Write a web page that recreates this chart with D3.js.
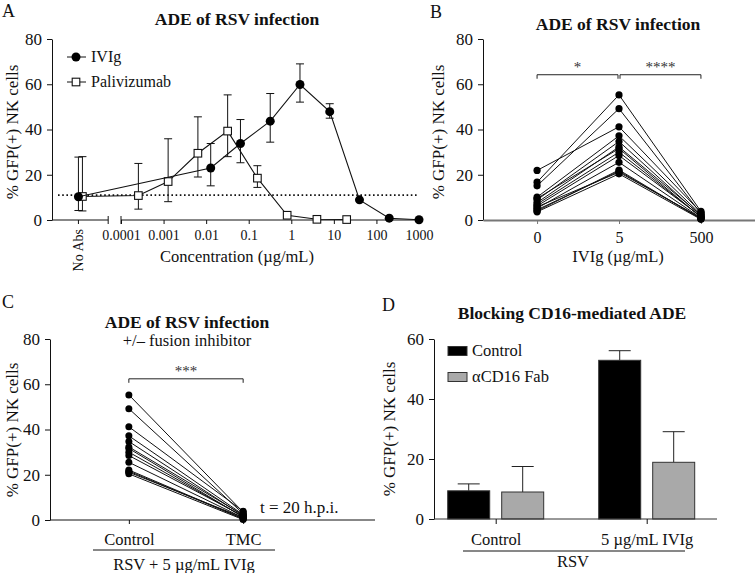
<!DOCTYPE html>
<html><head><meta charset="utf-8">
<script src="https://cdn.jsdelivr.net/npm/d3@7"></script>
<style>
body{margin:0;background:#fff;}
svg, svg text{font-family:"Liberation Serif","DejaVu Serif",serif !important;}
</style></head><body>
<svg id="c" width="755" height="573"></svg>
<script>
// ---------- DATA ----------
// Panel A (concentration µg/mL; null = "No Abs")
const ivigConc = [null, 0.0128, 0.064, 0.32, 1.6, 8, 40, 200, 1000];
const ivigMean = [10.3, 23.0, 33.8, 43.7, 59.9, 47.9, 8.9, 0.8, 0.1];
const ivigLo   = [4.2, 15.1, 25.3, 34.4, 52.1, 45.0, null, null, null];
const ivigHi   = [27.8, 33.8, 44.4, 55.9, 69.0, 51.4, null, null, null];
const paliConc = [null, 0.000256, 0.00128, 0.0064, 0.032, 0.16, 0.8, 4, 20];
const paliMean = [10.4, 10.8, 17.0, 29.5, 39.3, 18.5, 2.1, 0.3, 0.2];
const paliLo   = [4.0, 4.8, 8.1, 19.0, 28.0, 14.4, null, null, null];
const paliHi   = [28.0, 25.0, 35.9, 45.6, 55.3, 24.0, null, null, null];
const baseline = 11;
const concTicks = [0.0001, 0.001, 0.01, 0.1, 1, 10, 100, 1000];
const yTicksA = [0, 20, 40, 60, 80];

// Panel B (per donor, IVIg 0 / 5 / 500 µg/mL)
const bCats = ["0", "5", "500"];
const b0   = [16.7, 15.1, 21.9, 10.1, 8.9, 7.7, 9.5, 6.2, 5.2, 4.0, 5.8, 3.6, 4.5, 7.0];
const b5   = [55.3, 49.2, 41.2, 37.2, 34.7, 32.3, 31.6, 28.5, 25.5, 22.1, 21.1, 20.4, 21.6, 30.0];
const b500 = [3.8, 2.9, 3.4, 2.5, 1.8, 2.2, 1.2, 1.6, 0.9, 0.5, 1.0, 0.3, 0.6, 1.4];

// Panel C (per donor, Control / TMC)
const cCats = ["Control", "TMC"];
const cControl = [55.3, 49.2, 41.2, 37.2, 34.7, 32.3, 31.6, 28.5, 25.5, 22.1, 21.1, 20.4, 21.6, 30.0];
const cTMC     = [3.5, 2.8, 3.9, 2.4, 1.9, 2.2, 1.3, 1.7, 1.0, 0.6, 1.1, 0.2, 0.5, 1.5];

// Panel D
const dGroups = ["Control", "5 µg/mL IVIg"];
const dSeries = ["Control", "αCD16 Fab"];
const dControl = [9.4, 52.9];
const dControlErr = [2.3, 3.2];
const dFab = [9.0, 18.9];
const dFabErr = [8.5, 10.2];
const dColors = ["#000000", "#a9a9a9"];
const yTicksD = [0, 20, 40, 60];

// ---------- DRAW ----------
const svg = d3.select("#c");
const FS = 16;

function text(g, x, y, s, opt = {}) {
  const t = g.append("text").attr("x", x).attr("y", y).text(s)
    .attr("font-size", opt.size || FS)
    .attr("text-anchor", opt.anchor || "start")
    .attr("fill", opt.fill || "#111");
  if (opt.bold) t.attr("font-weight", "bold");
  return t;
}
function yLabel(x, y) {
  svg.append("text").attr("transform", `translate(${x},${y}) rotate(-90)`)
    .attr("text-anchor", "middle").attr("font-size", 17).attr("fill", "#111")
    .text("% GFP(+) NK cells");
}
function styleAxis(g, color) {
  g.attr("font-family", null);
  g.selectAll("text").attr("fill", "#111");
  g.selectAll("line,path").attr("stroke", color || "#111");
}

// ===== Panel A =====
const yA = d3.scaleLinear().domain([0, 80]).range([220, 39]);
const xA = d3.scaleLog().domain([1e-4, 1000]).range([121, 419]);
const noAbsX = xA(1e-5);
const xPos = c => c === null ? noAbsX : xA(c);

text(svg, 2, 17, "A", {size: 18});
text(svg, 237, 25, "ADE of RSV infection", {anchor: "middle", bold: true, size: 17.5});
yLabel(18, 132);

const gyA = svg.append("g").attr("transform", "translate(52,0)")
  .call(d3.axisLeft(yA).tickValues(yTicksA).tickSize(5).tickPadding(5).tickSizeOuter(0));
gyA.selectAll("text").attr("font-size", 17);
styleAxis(gyA);

// broken x axis
const ax = svg.append("g").attr("stroke", "#111").attr("stroke-width", 1);
ax.append("line").attr("x1", 52).attr("x2", xA(5e-5)).attr("y1", yA(0)).attr("y2", yA(0));
ax.append("line").attr("x1", xA(1e-4)).attr("x2", xA(1000)).attr("y1", yA(0)).attr("y2", yA(0));
[xA(5e-5), xA(1e-4)].forEach(x => ax.append("line").attr("x1", x).attr("x2", x)
  .attr("y1", yA(0) - 4).attr("y2", yA(0) + 4));
ax.append("line").attr("x1", noAbsX).attr("x2", noAbsX).attr("y1", yA(0)).attr("y2", yA(0) + 4);
const gxA = svg.append("g").attr("transform", `translate(0,${yA(0)})`)
  .call(d3.axisBottom(xA).tickValues(concTicks).tickFormat(d => String(d)).tickSize(4).tickPadding(6).tickSizeOuter(0));
gxA.select(".domain").remove();
gxA.selectAll("text").attr("font-size", 14);
styleAxis(gxA);
svg.append("text").attr("transform", `translate(${noAbsX + 5},229) rotate(-90)`)
  .attr("text-anchor", "end").attr("font-size", 14).attr("fill", "#111").text("No Abs");
text(svg, 237, 262, "Concentration (µg/mL)", {anchor: "middle", size: 16.5});

// dotted baseline
svg.append("line").attr("x1", 58).attr("x2", xA(1000)).attr("y1", yA(baseline)).attr("y2", yA(baseline))
  .attr("stroke", "#111").attr("stroke-width", 1.6).attr("stroke-dasharray", "1.6,2.6");

function seriesA(conc, mean, lo, hi, dx, marker) {
  const pts = conc.map((c, i) => ({x: xPos(c) + (c === null ? dx : 0), y: mean[i], lo: lo[i], hi: hi[i]}));
  const g = svg.append("g");
  pts.forEach(p => {
    if (p.lo === null) return;
    g.append("line").attr("x1", p.x).attr("x2", p.x).attr("y1", yA(p.lo)).attr("y2", yA(p.hi)).attr("stroke", "#111");
    [p.lo, p.hi].forEach(v => g.append("line").attr("x1", p.x - 4).attr("x2", p.x + 4)
      .attr("y1", yA(v)).attr("y2", yA(v)).attr("stroke", "#111"));
  });
  g.append("path").datum(pts).attr("fill", "none").attr("stroke", "#111").attr("stroke-width", 1.1)
    .attr("d", d3.line().x(d => d.x).y(d => yA(d.y)));
  pts.forEach(p => marker(g, p.x, yA(p.y)));
}
const circleM = (g, x, y) => g.append("circle").attr("cx", x).attr("cy", y).attr("r", 4.5).attr("fill", "#000");
const squareM = (g, x, y) => g.append("rect").attr("x", x - 3.8).attr("y", y - 3.8).attr("width", 7.6).attr("height", 7.6)
  .attr("fill", "#fff").attr("stroke", "#111").attr("stroke-width", 1.1);
seriesA(paliConc, paliMean, paliLo, paliHi, 4, squareM);
seriesA(ivigConc, ivigMean, ivigLo, ivigHi, 0, circleM);

// legend A
const lg = svg.append("g");
lg.append("line").attr("x1", 67).attr("x2", 86).attr("y1", 57).attr("y2", 57).attr("stroke", "#111");
circleM(lg, 76, 57);
lg.append("line").attr("x1", 67).attr("x2", 86).attr("y1", 82).attr("y2", 82).attr("stroke", "#111");
squareM(lg, 76, 82);
text(lg, 91, 62, "IVIg");
text(lg, 91, 87, "Palivizumab");

// ===== Panel B =====
const yB = d3.scaleLinear().domain([0, 80]).range([220, 39]);
const xB = d3.scalePoint().domain(bCats).range([483, 755]).padding(0.66);
text(svg, 430, 18, "B", {size: 18});
text(svg, 618, 30, "ADE of RSV infection", {anchor: "middle", bold: true, size: 17.5});
yLabel(444, 132);
const gyB = svg.append("g").attr("transform", "translate(483,0)")
  .call(d3.axisLeft(yB).tickValues(yTicksA).tickSize(5).tickPadding(5).tickSizeOuter(0));
gyB.selectAll("text").attr("font-size", 17);
styleAxis(gyB);
const gxB = svg.append("g").attr("transform", `translate(0,${yB(0)})`)
  .call(d3.axisBottom(xB).tickSize(4).tickPadding(8).tickSizeOuter(0));
gxB.selectAll("text").attr("font-size", 16);
styleAxis(gxB, "#777");
gxB.select(".domain").attr("stroke-width", 2);
text(svg, 618, 262, "IVIg (µg/mL)", {anchor: "middle", size: 16.5});

const donorsB = b0.map((v, i) => [v, b5[i], b500[i]]);
const gB = svg.append("g");
donorsB.forEach(d => {
  gB.append("path").attr("fill", "none").attr("stroke", "#111").attr("stroke-width", 1)
    .attr("d", d3.line().x((v, j) => xB(bCats[j])).y(v => yB(v))(d));
});
donorsB.forEach(d => d.forEach((v, j) => gB.append("circle")
  .attr("cx", xB(bCats[j])).attr("cy", yB(v)).attr("r", 3.6).attr("fill", "#000")));

function bracket(x1, x2, y, label, size) {
  const g = svg.append("g");
  g.append("path").attr("fill", "none").attr("stroke", "#222").attr("stroke-width", 1)
    .attr("d", `M${x1},${y + 4}V${y}H${x2}V${y + 4}`);
  text(g, (x1 + x2) / 2, y - 3, label, {anchor: "middle", size: size || 15, fill: "#333"});
}
bracket(xB("0"), xB("5") - 1, yB(64.2), "*");
bracket(xB("5") + 1, xB("500"), yB(64.2), "****");

// ===== Panel C =====
const yC = d3.scaleLinear().domain([0, 80]).range([520, 339]);
const xC = d3.scalePoint().domain(cCats).range([50, 322]).padding(0.69);
text(svg, 2, 308, "C", {size: 18});
text(svg, 187, 328, "ADE of RSV infection", {anchor: "middle", bold: true, size: 17.5});
text(svg, 187, 346, "+/– fusion inhibitor", {anchor: "middle", size: 16.5});
yLabel(18, 430);
const gyC = svg.append("g").attr("transform", "translate(50,0)")
  .call(d3.axisLeft(yC).tickValues(yTicksA).tickSize(5).tickPadding(5).tickSizeOuter(0));
gyC.selectAll("text").attr("font-size", 17);
styleAxis(gyC);
const gxC = svg.append("g").attr("transform", `translate(0,${yC(0)})`)
  .call(d3.axisBottom(xC).tickSize(4).tickPadding(9).tickSizeOuter(0));
gxC.select(".domain").remove();
gxC.selectAll("text").attr("font-size", 16.5);
styleAxis(gxC);
svg.append("line").attr("x1", 50).attr("x2", 375).attr("y1", yC(0)).attr("y2", yC(0)).attr("stroke", "#111");
svg.append("line").attr("x1", 93).attr("x2", 275).attr("y1", 550).attr("y2", 550).attr("stroke", "#111");
text(svg, 184, 570, "RSV + 5 µg/mL IVIg", {anchor: "middle", size: 16.5});
text(svg, 260, 513, "t = 20 h.p.i.", {size: 17});
const gC = svg.append("g");
cControl.forEach((v, i) => gC.append("line").attr("x1", xC("Control")).attr("x2", xC("TMC"))
  .attr("y1", yC(v)).attr("y2", yC(cTMC[i])).attr("stroke", "#111").attr("stroke-width", 1));
cControl.forEach((v, i) => {
  gC.append("circle").attr("cx", xC("Control")).attr("cy", yC(v)).attr("r", 3.5).attr("fill", "#000");
  gC.append("circle").attr("cx", xC("TMC")).attr("cy", yC(cTMC[i])).attr("r", 3.5).attr("fill", "#000");
});
bracket(xC("Control"), xC("TMC"), yC(62.4), "***");

// ===== Panel D =====
const yD = d3.scaleLinear().domain([0, 60]).range([519, 339]);
const x0 = d3.scalePoint().domain(dGroups).range([495.7, 646.7]);
const x1 = d3.scaleBand().domain(dSeries).range([-48, 48]).paddingInner(0.222);
text(svg, 382, 311, "D", {size: 18});
text(svg, 572, 319, "Blocking CD16-mediated ADE", {anchor: "middle", bold: true, size: 17.5});
yLabel(395, 429);
const gyD = svg.append("g").attr("transform", "translate(434,0)")
  .call(d3.axisLeft(yD).tickValues(yTicksD).tickSize(5).tickPadding(5).tickSizeOuter(0));
gyD.selectAll("text").attr("font-size", 17);
styleAxis(gyD);
const dVals = [dControl, dFab], dErrs = [dControlErr, dFabErr];
const gD = svg.append("g");
dSeries.forEach((s, si) => dGroups.forEach((grp, gi) => {
  const xl = x0(grp) + x1(s), w = x1.bandwidth(), v = dVals[si][gi], e = dErrs[si][gi];
  const xc = xl + w / 2;
  gD.append("line").attr("x1", xc).attr("x2", xc).attr("y1", yD(v)).attr("y2", yD(v + e)).attr("stroke", "#222");
  gD.append("line").attr("x1", xc - 11).attr("x2", xc + 11).attr("y1", yD(v + e)).attr("y2", yD(v + e)).attr("stroke", "#222");
  gD.append("rect").attr("x", xl).attr("y", yD(v)).attr("width", w).attr("height", yD(0) - yD(v))
    .attr("fill", dColors[si]).attr("stroke", "#333").attr("stroke-width", 1);
}));
svg.append("line").attr("x1", 434).attr("x2", 717).attr("y1", yD(0)).attr("y2", yD(0)).attr("stroke", "#333");
const gxD = svg.append("g").attr("transform", `translate(0,${yD(0)})`)
  .call(d3.axisBottom(x0).tickSize(5).tickPadding(9).tickSizeOuter(0));
gxD.select(".domain").remove();
gxD.selectAll("text").attr("font-size", 16.5);
styleAxis(gxD);
svg.append("line").attr("x1", 463).attr("x2", 685).attr("y1", 551).attr("y2", 551).attr("stroke", "#111");
text(svg, 573, 567, "RSV", {anchor: "middle", size: 16.5});
// legend D
dSeries.forEach((s, i) => {
  const ly = 351 + i * 26;
  svg.append("rect").attr("x", 448).attr("y", ly - 4.5).attr("width", 19).attr("height", 9)
    .attr("fill", dColors[i]).attr("stroke", "#333");
  text(svg, 472, ly + 5, s, {size: 16.5});
});
</script>
</body></html>
